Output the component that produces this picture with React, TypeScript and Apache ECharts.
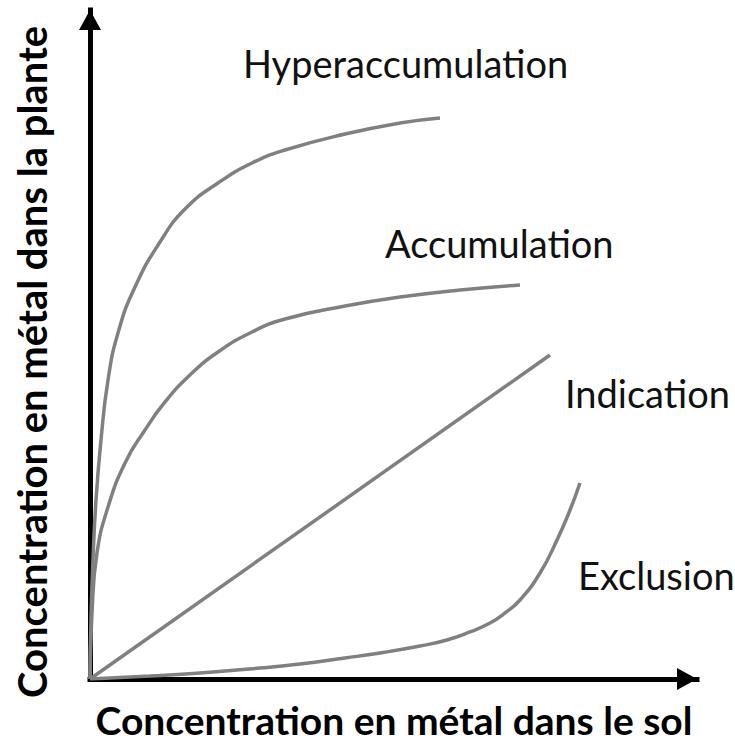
import React, { useEffect, useRef } from "react";
import * as echarts from "echarts";

// Data (normalized units: x 0..100 over soil concentration, y 0..100 over plant concentration)
const hyperX = [0, 0.16, 0.49, 0.99, 1.81, 2.97, 4.61, 7.41, 11.53, 15.65, 21.09, 26.69, 32.13, 42.01, 51.07, 57.66];
const hyperY = [0, 8.82, 17.79, 26.76, 35.72, 44.69, 51.72, 58.59, 65.32, 70.25, 74.14, 77.13, 79.07, 81.46, 83.11, 83.86];

const accumX = [0, 0.33, 1.15, 2.97, 5.77, 9.06, 12.36, 16.47, 21.09, 26.69, 32.13, 42.01, 51.07, 60.96, 70.84];
const accumY = [0, 9.87, 18.83, 25.71, 32.29, 37.22, 41.41, 45.44, 48.88, 51.87, 53.81, 55.75, 57.1, 58.15, 58.89];

const indicX = [0, 75.78];
const indicY = [0, 48.43];

const exclX = [0, 9.88, 18.12, 28.01, 34.6, 42.0, 47.78, 54.37, 58.81, 62.6, 65.9, 68.37, 70.84, 74.14, 76.94, 79.08, 80.72];
const exclY = [0, 0.45, 0.9, 1.64, 2.24, 3.14, 3.89, 4.93, 5.83, 7.03, 8.37, 9.87, 11.81, 15.84, 20.78, 25.26, 29.3];

const seriesLabels = ["Hyperaccumulation", "Accumulation", "Indication", "Exclusion"];
const xTitle = "Concentration en métal dans le sol";
const yTitle = "Concentration en métal dans la plante";

const zip = (xs: number[], ys: number[]) => xs.map((x, i) => [x, ys[i]]);

export default function App() {
  const ref = useRef<HTMLDivElement>(null);
  useEffect(() => {
    document.body.style.margin = "0";
    const chart = echarts.init(ref.current!, null, { renderer: "svg" });
    const lineStyle = { color: "#808080", width: 3.5 };
    const mk = (name: string, xs: number[], ys: number[], smooth: number | boolean) => ({
      type: "line",
      name,
      data: zip(xs, ys),
      symbol: "none",
      smooth,
      lineStyle,
      silent: true,
    });
    const axisLine = (sz: number[]) => ({
      show: true,
      symbol: ["none", "triangle"],
      symbolSize: sz,
      symbolOffset: [0, -10],
      lineStyle: { color: "#000", width: 5, cap: "square" },
    });
    const labelFont = { fontFamily: "Lato", fontSize: 38, fill: "#111", verticalAlign: "middle" };
    chart.setOption({
      animation: false,
      backgroundColor: "#fff",
      grid: { left: 90, right: 38, top: 10, bottom: 68 },
      xAxis: {
        type: "value",
        min: 0,
        max: 100,
        axisLine: axisLine([22, 20]),
        axisTick: { show: false },
        axisLabel: { show: false },
        splitLine: { show: false },
      },
      yAxis: {
        type: "value",
        min: 0,
        max: 100,
        axisLine: axisLine([22, 20]),
        axisTick: { show: false },
        axisLabel: { show: false },
        splitLine: { show: false },
      },
      series: [
        mk(seriesLabels[0], hyperX, hyperY, 0.5),
        mk(seriesLabels[1], accumX, accumY, 0.5),
        mk(seriesLabels[2], indicX, indicY, false),
        mk(seriesLabels[3], exclX, exclY, 0.5),
      ],
      graphic: [
        { type: "text", x: 243, y: 63, style: { text: seriesLabels[0], ...labelFont } },
        { type: "text", x: 385, y: 243, style: { text: seriesLabels[1], ...labelFont } },
        { type: "text", x: 565, y: 393, style: { text: seriesLabels[2], ...labelFont } },
        { type: "text", x: 578, y: 575, style: { text: seriesLabels[3], ...labelFont } },
        {
          type: "text",
          x: 394,
          y: 720,
          style: {
            text: xTitle,
            fontFamily: "Lato",
            fontWeight: "bold",
            fontSize: 39,
            fill: "#000",
            align: "center",
            verticalAlign: "middle",
          },
        },
        {
          type: "text",
          x: 32,
          y: 362,
          rotation: Math.PI / 2,
          style: {
            text: yTitle,
            fontFamily: "Lato",
            fontWeight: "bold",
            fontSize: 40,
            fill: "#000",
            align: "center",
            verticalAlign: "middle",
          },
        },
      ],
    });
    return () => chart.dispose();
  }, []);
  return <div ref={ref} style={{ width: 735, height: 747 }} />;
}
